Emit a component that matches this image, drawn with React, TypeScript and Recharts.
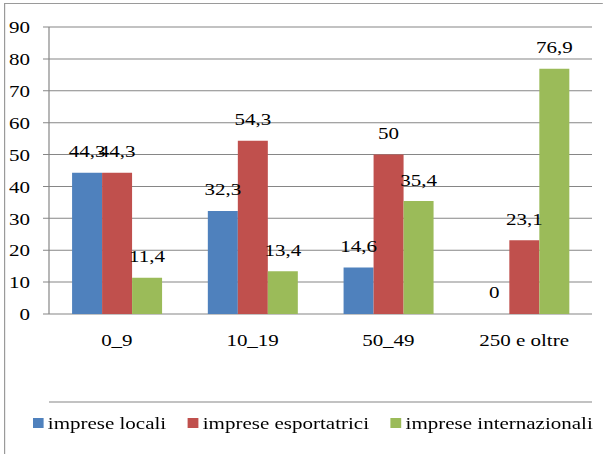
import React from 'react';
import { BarChart, Bar, XAxis, YAxis, CartesianGrid, Legend, LabelList } from 'recharts';

const categories = ['0_9', '10_19', '50_49', '250 e oltre'];
const impreseLocali = [44.3, 32.3, 14.6, 0];
const impreseEsportatrici = [44.3, 54.3, 50, 23.1];
const impreseInternazionali = [11.4, 13.4, 35.4, 76.9];
const yTicks = [0, 10, 20, 30, 40, 50, 60, 70, 80, 90];
const boundaryTicks = [0, 1, 2, 3, 4];

const seriesNames = ['imprese locali', 'imprese esportatrici', 'imprese internazionali'];
const seriesKeys = ['locali', 'esportatrici', 'internazionali'];
const seriesColors = ['#4F81BD', '#C0504D', '#9BBB59'];

const data = categories.map((name, i) => ({
  name,
  pos: i + 0.5,
  locali: impreseLocali[i],
  esportatrici: impreseEsportatrici[i],
  internazionali: impreseInternazionali[i],
}));

const FONT = '"Liberation Serif", "Times New Roman", serif';
const FS = 17.5;
const GRAY = '#868686';

const fmt = (v: any) => String(v).replace('.', ',');

const renderLegend = () => (
  <div
    style={{
      display: 'flex',
      alignItems: 'center',
      height: 40,
      fontFamily: FONT,
      fontSize: FS,
      color: '#000',
      whiteSpace: 'nowrap',
    }}
  >
    {seriesNames.map((n, i) => (
      <div key={n} style={{ display: 'flex', alignItems: 'center', marginRight: 18 }}>
        <span
          style={{
            display: 'inline-block',
            width: 9,
            height: 10.5,
            background: seriesColors[i],
            marginRight: 3.5,
          }}
        />
        <span>{n}</span>
      </div>
    ))}
  </div>
);

export default function App() {
  return (
    <div
      style={{
        position: 'absolute',
        top: 3,
        left: 4,
        width: 499,
        height: 451,
        boxSizing: 'border-box',
        borderTop: '1px solid #9a9a9a',
        borderLeft: '1px solid #9a9a9a',
        background: '#fff',
        transform: 'scaleX(1.2)',
        transformOrigin: '0 0',
      }}
    >
      <BarChart
        width={498}
        height={450}
        data={data}
        margin={{ top: 23, right: 9, left: 0, bottom: 11 }}
        barGap={0}
        barCategoryGap="17%"
        style={{ fontFamily: FONT }}
      >
        <CartesianGrid vertical={false} stroke={GRAY} strokeWidth={1} />
        <XAxis
          xAxisId="grid"
          type="number"
          dataKey="pos"
          domain={[0, 4]}
          ticks={boundaryTicks}
          allowDataOverflow
          height={1}
          tick={false}
          tickSize={6}
          tickLine={{ stroke: GRAY }}
          axisLine={{ stroke: GRAY }}
        />
        <XAxis
          xAxisId="cat"
          dataKey="name"
          height={88}
          tickLine={false}
          axisLine={false}
          tickSize={6}
          tickMargin={13.5}
          interval={0}
          tick={{ fill: '#000', fontSize: FS, fontFamily: FONT }}
        />
        <YAxis
          width={36.5}
          domain={[0, 90]}
          ticks={yTicks}
          interval={0}
          tickSize={5}
          tickMargin={10.8}
          tickLine={{ stroke: GRAY }}
          axisLine={{ stroke: GRAY }}
          tick={{ fill: '#000', fontSize: FS, fontFamily: FONT }}
        />
        <Legend
          verticalAlign="bottom"
          content={renderLegend}
          wrapperStyle={{ left: 23, width: 480, height: 40, bottom: 11 }}
        />
        {seriesKeys.map((k, i) => (
          <Bar
            key={k}
            xAxisId="cat"
            dataKey={k}
            name={seriesNames[i]}
            fill={seriesColors[i]}
            minPointSize={0.01}
            isAnimationActive={false}
          >
            <LabelList
              dataKey={k}
              position="top"
              offset={15.5}
              formatter={fmt}
              style={{ fill: '#000', fontSize: FS, fontFamily: FONT }}
            />
          </Bar>
        ))}
      </BarChart>
    </div>
  );
}
